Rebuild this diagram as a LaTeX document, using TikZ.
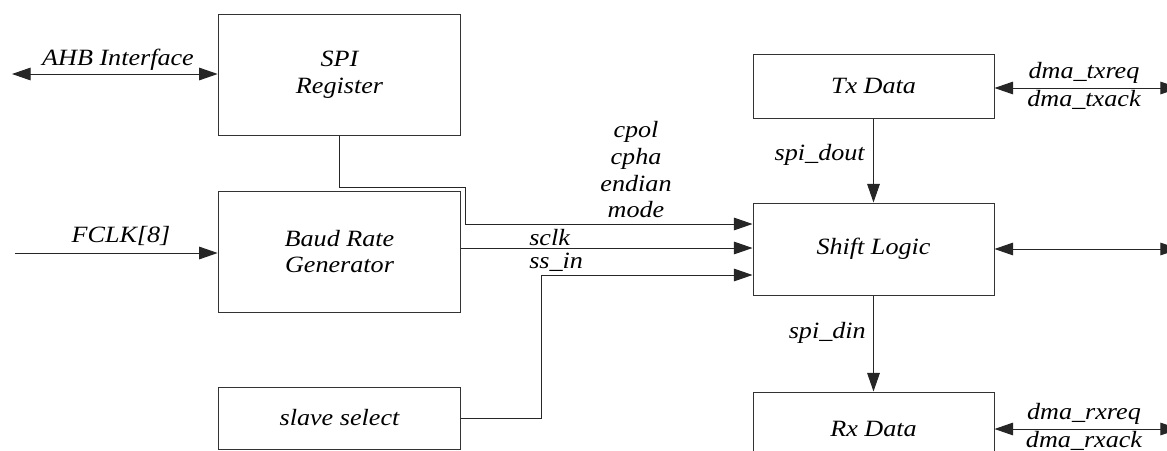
\documentclass[tikz,border=0pt]{standalone}
\usepackage{fontspec}
\setmainfont[FakeStretch=1.12]{Liberation Serif}
\usetikzlibrary{arrows.meta}
\begin{document}
\begin{tikzpicture}[x=0.75pt, y=-0.75pt, font=\fontsize{17.5}{20}\selectfont\itshape,
  block/.style={shape=rectangle, draw=black!80, line width=0.75pt, minimum width=182pt, minimum height=90.75pt, align=center},
  unit/.style={block, minimum width=180.75pt, minimum height=48pt},
  sig/.style={line width=0.75pt, draw=black!85, -{Triangle[length=14pt,width=9.5pt]}},
  bus/.style={sig, {Triangle[length=14pt,width=9.5pt]}-{Triangle[length=14pt,width=9.5pt]}},
  lbl/.style={inner sep=0pt, align=center}]
\useasboundingbox (0,0) rectangle (1167,450);
\node[block] (reg) at (339.5,74.5) {SPI\\Register};
\node[block] (baud) at (339.5,251.5) {Baud Rate\\Generator};
\node[block, minimum height=46.5pt] (slv) at (339.5,418) {slave select};
\node[unit] (tx) at (873.5,86) {Tx Data};
\node[unit, minimum height=69pt] (shift) at (873.5,249) {Shift Logic};
\node[unit, minimum height=55.5pt] (rx) at (873.5,429) {Rx Data};
\coordinate (ahb) at (12,74);
\coordinate (fclk) at (15,253);
\coordinate (cfgbend) at (465,224);
\coordinate (ssbend) at (541,275);
\coordinate (txdma) at (1179,88);
\coordinate (shiftio) at (1179,249);
\coordinate (rxdma) at (1179,429);
\node[lbl] (ahblbl) at (118,60) {AHB Interface};
\node[lbl] (fclklbl) at (121,236) {FCLK[8]};
\node[lbl] (cfglbl) at (636,170) {cpol\\cpha\\endian\\mode};
\node[lbl, anchor=west] (sclklbl) at (529,238) {sclk};
\node[lbl, anchor=west] (sslbl) at (529,262) {ss\_in};
\node[lbl, anchor=east] (doutlbl) at (865,155) {spi\_dout};
\node[lbl, anchor=east] (dinlbl) at (866,333) {spi\_din};
\node[lbl] (txreqlbl) at (1084,73) {dma\_txreq};
\node[lbl] (txacklbl) at (1084,100) {dma\_txack};
\node[lbl] (rxreqlbl) at (1084,414) {dma\_rxreq};
\node[lbl] (rxacklbl) at (1084,441) {dma\_rxack};
\draw[bus] (ahb) -- (ahb -| reg.west);
\draw[sig] (fclk) -- (fclk -| baud.west);
\draw[sig] (reg.south) |- (cfgbend |- 0,187) -- (cfgbend) -- (cfgbend -| shift.west);
\draw[sig] (baud.east |- 0,248) -- (shift.west |- 0,248);
\draw[sig] (slv.east) -| (ssbend) -- (ssbend -| shift.west);
\draw[sig] (tx.south) -- (shift.north);
\draw[sig] (shift.south) -- (rx.north);
\draw[bus] (txdma -| tx.east) -- (txdma);
\draw[bus] (shift.east) -- (shiftio);
\draw[bus] (rxdma -| rx.east) -- (rxdma);
\end{tikzpicture}
\end{document}
